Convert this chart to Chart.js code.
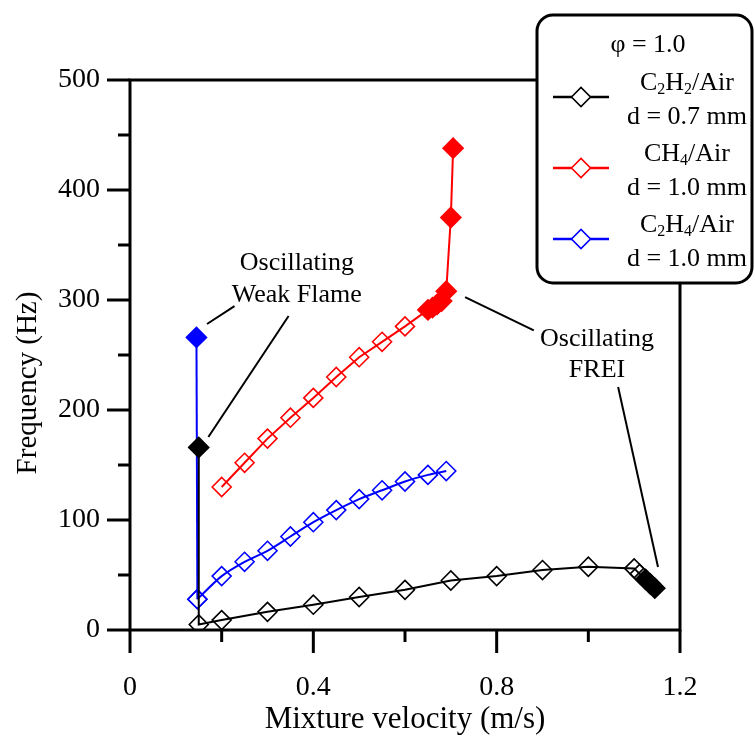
<!DOCTYPE html>
<html>
<head>
<meta charset="utf-8">
<script src="https://cdn.jsdelivr.net/npm/chart.js@4.4.1/dist/chart.umd.min.js"></script>
<style>
  body { margin: 0; background: #fff; }
  canvas { display: block; }
</style>
</head>
<body>
<canvas id="grafico" width="755" height="740"></canvas>
<script>
// C2H2/Air, d = 0.7 mm
const c2h2Vel    = [0.15, 0.15, 0.2, 0.3, 0.4, 0.5, 0.6, 0.7, 0.8, 0.9, 1.0, 1.1, 1.112, 1.125, 1.135, 1.145];
const c2h2Freq   = [166, 5, 9, 16.5, 23, 30, 36.5, 45, 49, 54.5, 57.5, 56, 51, 46, 42, 38];
const c2h2Filled = [1, 0, 0, 0, 0, 0, 0, 0, 0, 0, 0, 0, 0, 1, 1, 1];

// CH4/Air, d = 1.0 mm
const ch4Vel    = [0.2, 0.25, 0.3, 0.35, 0.4, 0.45, 0.5, 0.55, 0.6, 0.65, 0.66, 0.67, 0.68, 0.69, 0.70, 0.705];
const ch4Freq   = [130, 152, 174, 193, 211, 230, 248, 262, 276, 291, 293, 296, 299, 308, 375, 438];
const ch4Filled = [0, 0, 0, 0, 0, 0, 0, 0, 0, 1, 1, 1, 1, 1, 1, 1];

// C2H4/Air, d = 1.0 mm
const c2h4Vel    = [0.145, 0.147, 0.2, 0.25, 0.3, 0.35, 0.4, 0.45, 0.5, 0.55, 0.6, 0.65, 0.69];
const c2h4Freq   = [266, 28, 49, 62, 72, 85, 98, 109, 119, 127, 135, 141, 144.5];
const c2h4Filled = [1, 0, 0, 0, 0, 0, 0, 0, 0, 0, 0, 0, 0];

const xTicks = [0, 0.4, 0.8, 1.2];
const yTicks = [0, 100, 200, 300, 400, 500];

const FONT = "'Liberation Serif', 'Times New Roman', serif";
Chart.defaults.font.family = FONT;
Chart.defaults.color = '#000';

function serie(vel, freq, filled, cor, tension) {
    return {
        data: vel.map((v, i) => ({ x: v, y: freq[i] })),
        showLine: true,
        borderColor: cor,
        borderWidth: 2,
        tension: tension,
        pointStyle: 'rectRot',
        pointRadius: filled.map(f => f ? 10 : 9.5),
        pointBorderWidth: 1.6,
        pointBorderColor: cor,
        pointBackgroundColor: filled.map(f => f ? cor : 'rgba(255,255,255,0)')
    };
}

function texto(ctx, str, x, y, size, align) {
    ctx.font = size + 'px ' + FONT;
    ctx.textAlign = align || 'center';
    ctx.textBaseline = 'middle';
    ctx.fillText(str, x, y);
}

// text with subscripts: parts like ['C', '2', 'H', '2', '/Air'], odd items are subscripts
function textoSub(ctx, parts, cx, y, size) {
    const sub = Math.round(size * 0.62);
    let w = 0;
    parts.forEach((p, i) => {
        ctx.font = (i % 2 ? sub : size) + 'px ' + FONT;
        w += ctx.measureText(p).width;
    });
    let x = cx - w / 2;
    ctx.textAlign = 'left';
    ctx.textBaseline = 'middle';
    parts.forEach((p, i) => {
        ctx.font = (i % 2 ? sub : size) + 'px ' + FONT;
        ctx.fillText(p, x, i % 2 ? y + size * 0.28 : y);
        x += ctx.measureText(p).width;
    });
}

function linha(ctx, x1, y1, x2, y2) {
    ctx.beginPath();
    ctx.moveTo(x1, y1);
    ctx.lineTo(x2, y2);
    ctx.stroke();
}

const extras = {
    id: 'extras',
    afterDatasetsDraw(chart) {
        const ctx = chart.ctx;
        const a = chart.chartArea;
        const xs = chart.scales.x, ys = chart.scales.y;
        const px = v => xs.getPixelForValue(v);
        const py = v => ys.getPixelForValue(v);
        ctx.save();
        ctx.strokeStyle = '#000';
        ctx.fillStyle = '#000';

        // frame + ticks
        ctx.lineWidth = 3;
        ctx.strokeRect(a.left, a.top, a.right - a.left, a.bottom - a.top);
        xs.ticks.forEach(t => {
            const major = xTicks.some(v => Math.abs(v - t.value) < 1e-6);
            linha(ctx, px(t.value), a.bottom, px(t.value), a.bottom + (major ? 23 : 12));
        });
        ys.ticks.forEach(t => {
            const major = yTicks.includes(Math.round(t.value));
            linha(ctx, a.left, py(t.value), a.left - (major ? 23 : 12), py(t.value));
        });

        // axis titles
        texto(ctx, 'Mixture velocity (m/s)', (a.left + a.right) / 2, 720, 31);
        ctx.save();
        ctx.translate(28, 383);
        ctx.rotate(-Math.PI / 2);
        texto(ctx, 'Frequency (Hz)', 0, 0, 29);
        ctx.restore();

        // annotations
        ctx.lineWidth = 2;
        texto(ctx, 'Oscillating', px(0.364), py(333.6), 26);
        texto(ctx, 'Weak Flame', px(0.364), py(304.5), 26);
        linha(ctx, px(0.168), py(278.2), px(0.228), py(294.5));
        linha(ctx, px(0.171), py(175.5), px(0.346), py(285.5));
        texto(ctx, 'Oscillating', px(1.019), py(264.5), 26);
        texto(ctx, 'FREI', px(1.019), py(236.4), 26);
        linha(ctx, px(0.731), py(302.7), px(0.881), py(272.3));
        linha(ctx, px(1.065), py(220.9), px(1.152), py(57.3));

        // legend box
        ctx.lineWidth = 3;
        ctx.beginPath();
        ctx.roundRect(537, 15, 215, 268, 16);
        ctx.fillStyle = '#fff';
        ctx.fill();
        ctx.stroke();
        ctx.fillStyle = '#000';
        texto(ctx, 'φ = 1.0', 648, 45, 26);
        const itens = [
            { cor: '#000000', nome: ['C', '2', 'H', '2', '/Air'], d: 'd = 0.7 mm', y: 97 },
            { cor: '#ff0000', nome: ['CH', '4', '/Air'], d: 'd = 1.0 mm', y: 168 },
            { cor: '#0000ff', nome: ['C', '2', 'H', '4', '/Air'], d: 'd = 1.0 mm', y: 239 }
        ];
        itens.forEach(it => {
            ctx.strokeStyle = it.cor;
            ctx.lineWidth = 2.5;
            linha(ctx, 553, it.y, 609, it.y);
            ctx.lineWidth = 1.6;
            ctx.beginPath();
            ctx.moveTo(581 - 9.5, it.y);
            ctx.lineTo(581, it.y - 9.5);
            ctx.lineTo(581 + 9.5, it.y);
            ctx.lineTo(581, it.y + 9.5);
            ctx.closePath();
            ctx.fillStyle = '#fff';
            ctx.fill();
            ctx.stroke();
            ctx.fillStyle = '#000';
            textoSub(ctx, it.nome, 687, it.y - 14, 26);
            texto(ctx, it.d, 687, it.y + 20, 26);
        });
        ctx.restore();
    }
};

// blue series: straight drop from the weak-flame point, smooth curve after it
const c2h4Queda = serie(c2h4Vel.slice(0, 2), c2h4Freq.slice(0, 2), c2h4Filled.slice(0, 2), '#0000ff', 0);
const c2h4Curva = serie(c2h4Vel.slice(1), c2h4Freq.slice(1), c2h4Filled.slice(1), '#0000ff', 0.3);

new Chart(document.getElementById('grafico').getContext('2d'), {
    type: 'scatter',
    data: {
        datasets: [
            serie(c2h2Vel, c2h2Freq, c2h2Filled, '#000000', 0),
            serie(ch4Vel, ch4Freq, ch4Filled, '#ff0000', 0),
            c2h4Curva,
            c2h4Queda
        ]
    },
    options: {
        responsive: false,
        animation: false,
        layout: { padding: { top: 80, right: 75, left: 0, bottom: 0 } },
        plugins: {
            legend: { display: false },
            tooltip: { enabled: false }
        },
        scales: {
            x: {
                min: 0,
                max: 1.2,
                border: { display: false },
                grid: { drawOnChartArea: false, drawTicks: true, tickLength: 23, color: 'rgba(0,0,0,0)' },
                ticks: {
                    stepSize: 0.2,
                    padding: 18,
                    font: { size: 28 },
                    maxRotation: 0,
                    callback: v => {
                        const k = xTicks.find(t => Math.abs(t - v) < 1e-6);
                        return k === undefined ? '' : String(k);
                    }
                },
                afterFit: s => { s.height = 110; }
            },
            y: {
                min: 0,
                max: 500,
                border: { display: false },
                grid: { drawOnChartArea: false, drawTicks: true, tickLength: 23, color: 'rgba(0,0,0,0)' },
                ticks: {
                    stepSize: 50,
                    padding: 7,
                    font: { size: 28 },
                    callback: v => yTicks.includes(v) ? String(v) : ''
                },
                afterFit: s => { s.width = 130; }
            }
        }
    },
    plugins: [extras]
});
</script>
</body>
</html>
